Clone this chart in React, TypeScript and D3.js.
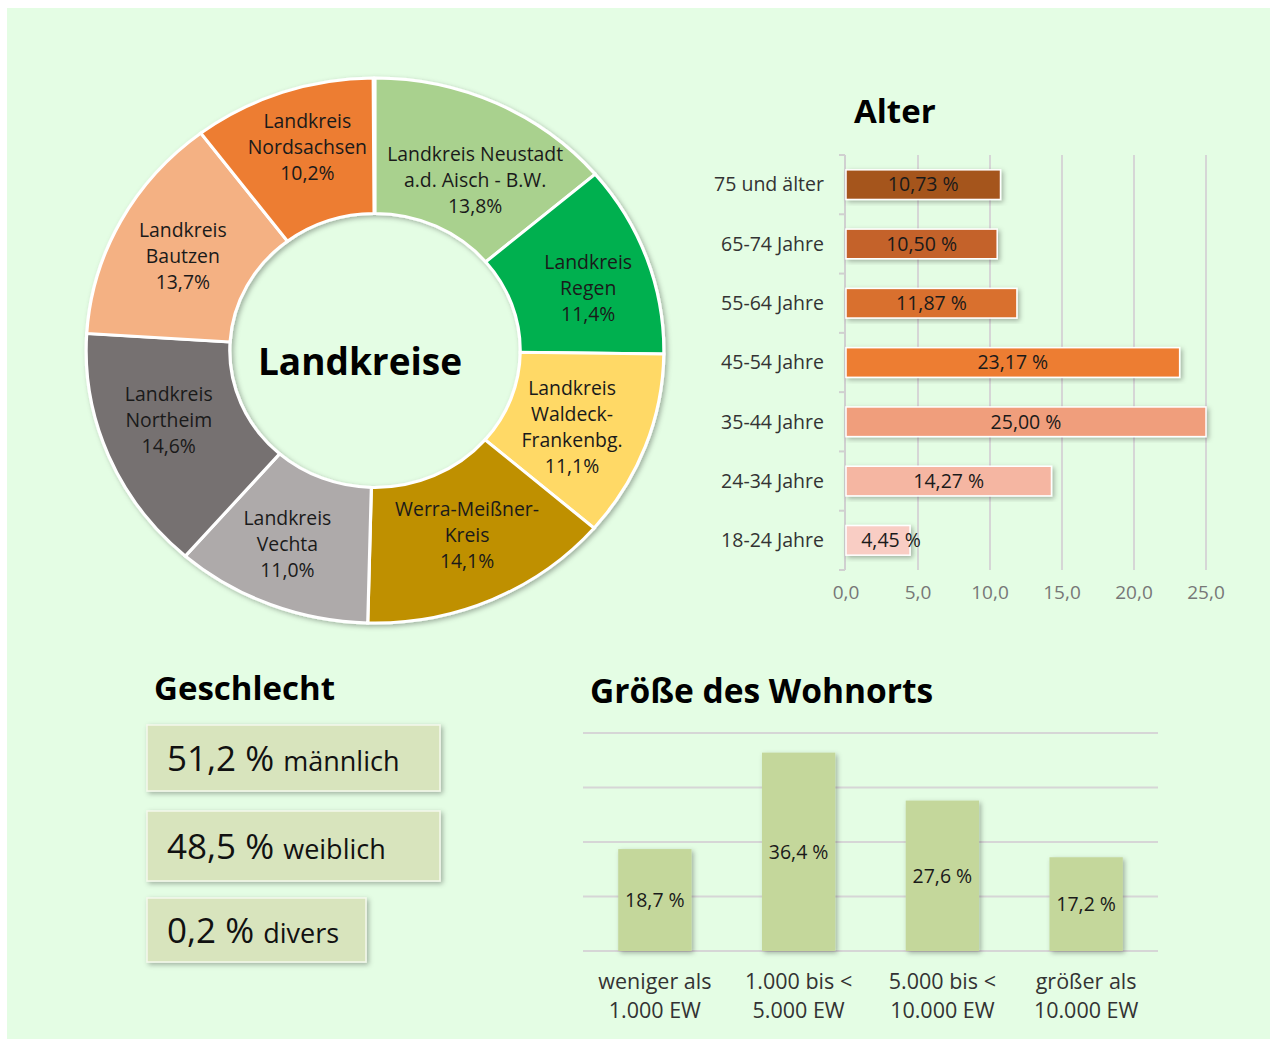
import React, { useEffect, useRef } from "react";
import * as d3 from "d3";

// Landkreise (donut)
const districtNames = [
  "Landkreis Neustadt\na.d. Aisch - B.W.",
  "Landkreis\nRegen",
  "Landkreis\nWaldeck-\nFrankenbg.",
  "Werra-Meißner-\nKreis",
  "Landkreis\nVechta",
  "Landkreis\nNortheim",
  "Landkreis\nBautzen",
  "Landkreis\nNordsachsen",
];
const districtShares = [13.8, 11.4, 11.1, 14.1, 11.0, 14.6, 13.7, 10.2];
const districtColors = ["#a9d18e", "#00b050", "#ffd966", "#bf9000", "#aeaaaa", "#767171", "#f4b183", "#ed7d31"];

// Alter
const ageGroups = ["75 und älter", "65-74 Jahre", "55-64 Jahre", "45-54 Jahre", "35-44 Jahre", "24-34 Jahre", "18-24 Jahre"];
const agePercents = [10.73, 10.5, 11.87, 23.17, 25.0, 14.27, 4.45];
const ageColors = ["#a5541f", "#c4622a", "#d9702e", "#ed7d31", "#f09e7c", "#f5b6a2", "#f9cdc4"];
const ageTicks = [0, 5, 10, 15, 20, 25];

// Geschlecht
const genderPercents = ["51,2 %", "48,5 %", "0,2 %"];
const genderLabels = ["männlich", "weiblich", "divers"];

// Größe des Wohnorts
const townSizes = ["weniger als\n1.000 EW", "1.000 bis <\n5.000 EW", "5.000 bis <\n10.000 EW", "größer als\n10.000 EW"];
const townPercents = [18.7, 36.4, 27.6, 17.2];
const townTicks = [0, 10, 20, 30, 40];

const FONT = "'Open Sans', sans-serif";
const fmt = (v: number, digits: number) => v.toFixed(digits).replace(".", ",");

// small nudges of the donut labels away from the arc centroid (as Excel places them)
const labelNudge = [[9, 16], [9, 7], [-6, 4], [4, -2], [-9, 3], [-6, -9], [-1, 3], [2, -9]];

const App = () => {
  const ref = useRef<SVGSVGElement>(null);

  useEffect(() => {
    const svg = d3.select(ref.current);
    svg.selectAll("*").remove();

    const defs = svg.append("defs");
    const shadow = defs.append("filter").attr("id", "shadow").attr("x", "-20%").attr("y", "-20%").attr("width", "140%").attr("height", "140%");
    shadow.append("feDropShadow").attr("dx", 2).attr("dy", 2).attr("stdDeviation", 2.5).attr("flood-color", "#000").attr("flood-opacity", 0.3);

    // background panel
    svg.append("rect").attr("x", 7).attr("y", 8).attr("width", 1263).attr("height", 1031).attr("fill", "#e4fde4");

    // ---------- Donut ----------
    const cx = 375, cy = 350.5, stretch = 1.06;
    const outerR = 272.5, innerR = 137;
    const angle = d3.scaleLinear().domain([0, 100]).range([0, 2 * Math.PI]);
    const cum = d3.cumsum(districtShares);
    const slices = districtShares.map((v, i) => ({
      startAngle: angle(cum[i] - v),
      endAngle: Math.min(angle(cum[i]), 2 * Math.PI),
      i,
    }));
    const arc = d3.arc<any>().innerRadius(innerR).outerRadius(outerR);

    const donut = svg.append("g").attr("transform", `translate(${cx},${cy}) scale(${stretch},1)`);
    donut.append("g").attr("filter", "url(#shadow)")
      .selectAll("path")
      .data(slices)
      .enter()
      .append("path")
      .attr("d", arc)
      .attr("fill", (d) => districtColors[d.i])
      .attr("stroke", "#fff")
      .attr("stroke-width", 3);

    const labels = svg.append("g").attr("transform", `translate(${cx},${cy})`);
    slices.forEach((d) => {
      const [x, y] = arc.centroid(d);
      const [nx, ny] = labelNudge[d.i];
      const lines = [...districtNames[d.i].split("\n"), fmt(districtShares[d.i], 1) + "%"];
      const t = labels.append("text")
        .attr("text-anchor", "middle")
        .attr("font-family", FONT)
        .attr("font-size", 19.4)
        .attr("fill", "#1a1a1a");
      lines.forEach((line, k) => {
        t.append("tspan")
          .attr("x", x * stretch + nx)
          .attr("y", y + ny + (k - (lines.length - 1) / 2) * 26)
          .attr("dy", "0.35em")
          .text(line);
      });
    });

    svg.append("text")
      .attr("x", 360).attr("y", 362)
      .attr("dy", "0.35em")
      .attr("text-anchor", "middle")
      .attr("font-family", FONT)
      .attr("font-weight", "bold")
      .attr("font-size", 37)
      .attr("fill", "#000")
      .text("Landkreise");

    // ---------- Alter ----------
    const ax = d3.scaleLinear().domain([0, 25]).range([846, 1206]);
    const ay = d3.scaleBand<string>().domain(ageGroups).range([155, 570]);
    const bw = ay.bandwidth();

    svg.append("text")
      .attr("x", 854).attr("y", 123)
      .attr("font-family", FONT).attr("font-weight", "bold").attr("font-size", 33)
      .text("Alter");

    const age = svg.append("g");
    age.selectAll(".grid")
      .data(ageTicks.slice(1))
      .enter()
      .append("line")
      .attr("x1", (d) => ax(d)).attr("x2", (d) => ax(d))
      .attr("y1", 155).attr("y2", 570)
      .attr("stroke", "#d6d6d6").attr("stroke-width", 2);

    age.append("line").attr("x1", 845).attr("x2", 845).attr("y1", 155).attr("y2", 570)
      .attr("stroke", "#d0d0d0").attr("stroke-width", 2);
    age.selectAll(".tick")
      .data(d3.range(ageGroups.length + 1))
      .enter()
      .append("line")
      .attr("x1", 839).attr("x2", 845)
      .attr("y1", (d) => 155 + d * bw).attr("y2", (d) => 155 + d * bw)
      .attr("stroke", "#d0d0d0").attr("stroke-width", 2);

    age.selectAll(".bar")
      .data(ageGroups)
      .enter()
      .append("rect")
      .attr("x", ax(0))
      .attr("y", (d) => (ay(d) as number) + bw * 0.25)
      .attr("width", (d, i) => ax(agePercents[i]) - ax(0))
      .attr("height", bw * 0.5)
      .attr("fill", (d, i) => ageColors[i])
      .attr("stroke", "#fff").attr("stroke-width", 1.5)
      .attr("filter", "url(#shadow)");

    age.selectAll(".val")
      .data(ageGroups)
      .enter()
      .append("text")
      .attr("x", (d, i) => (ax(0) + ax(agePercents[i])) / 2 + (agePercents[i] < 6 ? 13 : 0))
      .attr("y", (d) => (ay(d) as number) + bw / 2)
      .attr("dy", "0.35em")
      .attr("text-anchor", "middle")
      .attr("font-family", FONT).attr("font-size", 19.5).attr("fill", "#1a1a1a")
      .text((d, i) => fmt(agePercents[i], 2) + " %");

    age.selectAll(".cat")
      .data(ageGroups)
      .enter()
      .append("text")
      .attr("x", 824)
      .attr("y", (d) => (ay(d) as number) + bw / 2)
      .attr("dy", "0.35em")
      .attr("text-anchor", "end")
      .attr("font-family", FONT).attr("font-size", 19.5).attr("fill", "#333")
      .text((d) => d);

    age.selectAll(".tl")
      .data(ageTicks)
      .enter()
      .append("text")
      .attr("x", (d) => ax(d))
      .attr("y", 592)
      .attr("dy", "0.35em")
      .attr("text-anchor", "middle")
      .attr("font-family", FONT).attr("font-size", 19).attr("fill", "#777")
      .text((d) => fmt(d, 1));

    // ---------- Geschlecht ----------
    svg.append("text")
      .attr("x", 154).attr("y", 700)
      .attr("font-family", FONT).attr("font-weight", "bold").attr("font-size", 33)
      .text("Geschlecht");

    const boxTops = [725, 811, 898];
    const boxHeights = [66, 70, 64];
    const boxWidths = [293, 293, 219];
    const gender = svg.append("g");
    genderPercents.forEach((p, i) => {
      gender.append("rect")
        .attr("x", 147).attr("y", boxTops[i])
        .attr("width", boxWidths[i]).attr("height", boxHeights[i])
        .attr("fill", "#d8e4bd").attr("stroke", "#f4f8ec").attr("stroke-width", 1.5)
        .attr("filter", "url(#shadow)");
      const t = gender.append("text")
        .attr("x", 167).attr("y", boxTops[i] + boxHeights[i] / 2 + 13)
        .attr("font-family", FONT).attr("fill", "#111");
      t.append("tspan").attr("font-size", 35).text(p + " ");
      t.append("tspan").attr("font-size", 27).text(genderLabels[i]);
    });

    // ---------- Größe des Wohnorts ----------
    svg.append("text")
      .attr("x", 590).attr("y", 703)
      .attr("font-family", FONT).attr("font-weight", "bold").attr("font-size", 33.5)
      .text("Größe des Wohnorts");

    const tx = d3.scaleBand<string>().domain(townSizes).range([583, 1158]).paddingInner(0.49).paddingOuter(0.245);
    const ty = d3.scaleLinear().domain([0, 40]).range([951, 733]);
    const town = svg.append("g");

    town.selectAll(".grid")
      .data(townTicks)
      .enter()
      .append("line")
      .attr("x1", 583).attr("x2", 1158)
      .attr("y1", (d) => ty(d)).attr("y2", (d) => ty(d))
      .attr("stroke", "#d6d6d6").attr("stroke-width", 2);

    town.selectAll(".bar")
      .data(townSizes)
      .enter()
      .append("rect")
      .attr("x", (d) => tx(d) as number)
      .attr("y", (d, i) => ty(townPercents[i]))
      .attr("width", tx.bandwidth())
      .attr("height", (d, i) => ty(0) - ty(townPercents[i]))
      .attr("fill", "#c4d79b")
      .attr("filter", "url(#shadow)");

    town.selectAll(".val")
      .data(townSizes)
      .enter()
      .append("text")
      .attr("x", (d) => (tx(d) as number) + tx.bandwidth() / 2)
      .attr("y", (d, i) => (ty(0) + ty(townPercents[i])) / 2)
      .attr("dy", "0.35em")
      .attr("text-anchor", "middle")
      .attr("font-family", FONT).attr("font-size", 19.5).attr("fill", "#1a1a1a")
      .text((d, i) => fmt(townPercents[i], 1) + " %");

    town.selectAll(".cat")
      .data(townSizes)
      .enter()
      .append("text")
      .attr("text-anchor", "middle")
      .attr("font-family", FONT).attr("font-size", 21.5).attr("fill", "#333")
      .each(function (d) {
        const x = (tx(d) as number) + tx.bandwidth() / 2;
        d.split("\n").forEach((line, k) => {
          d3.select(this).append("tspan").attr("x", x).attr("y", 981 + k * 29).attr("dy", "0.35em").text(line);
        });
      });
  }, []);

  return (
    <svg
      ref={ref}
      width={1270}
      height={1039}
      style={{ position: "absolute", left: 0, top: 0, background: "#fff" }}
    />
  );
};

export default App;
